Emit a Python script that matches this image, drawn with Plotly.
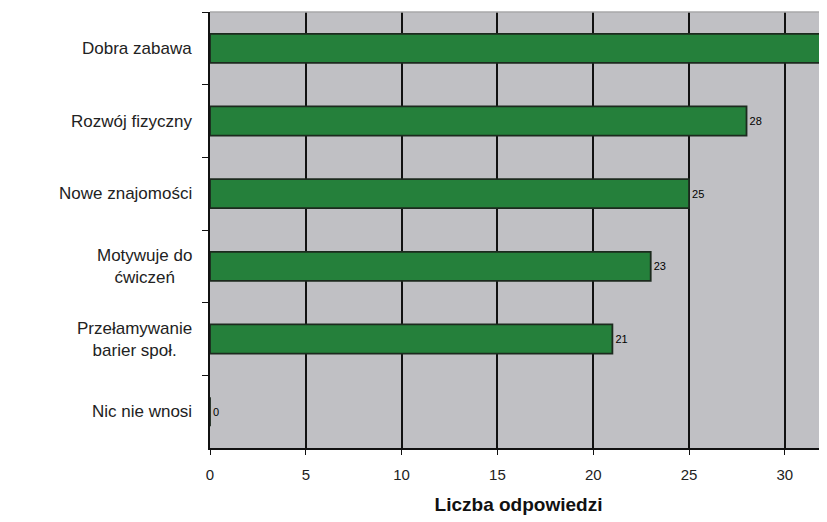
import plotly.graph_objects as go

categories = ["Dobra zabawa", "Rozwój fizyczny", "Nowe znajomości",
              "Motywuje do<br>ćwiczeń", "Przełamywanie<br>barier społ.", "Nic nie wnosi"]
values = [32, 28, 25, 23, 21, 0]
x_ticks = [0, 5, 10, 15, 20, 25, 30]

narrow = "Liberation Sans Narrow, Arial Narrow, Liberation Sans, Arial"
sans = "Liberation Sans, Arial"

fig = go.Figure()
fig.add_trace(go.Bar(
    y=categories, x=values, orientation="h",
    marker=dict(color="#25803b", line=dict(color="#1c2a1e", width=1.8)),
    width=0.4,
    text=[str(v) for v in values], textposition="outside",
    textfont=dict(family=narrow, size=11, color="#000"),
    cliponaxis=False,
))

for c in categories:
    fig.add_annotation(x=0, xref="paper", xanchor="right", xshift=-16,
                       y=c, yref="y", text=c, showarrow=False, align="center",
                       font=dict(family=sans, size=17, color="#222"))

fig.update_layout(
    width=827, height=522,
    margin=dict(l=202, r=8, t=4, b=82),
    paper_bgcolor="white", plot_bgcolor="#c0c0c4",
    showlegend=False,
    xaxis=dict(range=[0, 32.2], tickvals=x_ticks, showgrid=True, gridcolor="#111", gridwidth=1.5,
               showline=True, linecolor="#111", linewidth=1.5, ticks="outside", ticklen=5,
               tickcolor="#111", zeroline=False, ticklabelstandoff=7,
               tickfont=dict(family=narrow, size=15, color="#222"),
               title=dict(text="<b>Liczba odpowiedzi</b>", standoff=16,
                          font=dict(family=sans, size=19, color="#111"))),
    yaxis=dict(autorange="reversed", showticklabels=False, tickson="boundaries", ticks="outside",
               ticklen=6, tickcolor="#111", showline=True, linecolor="#111", linewidth=1.5,
               showgrid=False),
)
fig.add_shape(type="line", xref="paper", yref="paper", x0=0, x1=1, y0=1, y1=1,
              line=dict(color="#a8a8aa", width=1.5))

fig.write_html("out.html")
